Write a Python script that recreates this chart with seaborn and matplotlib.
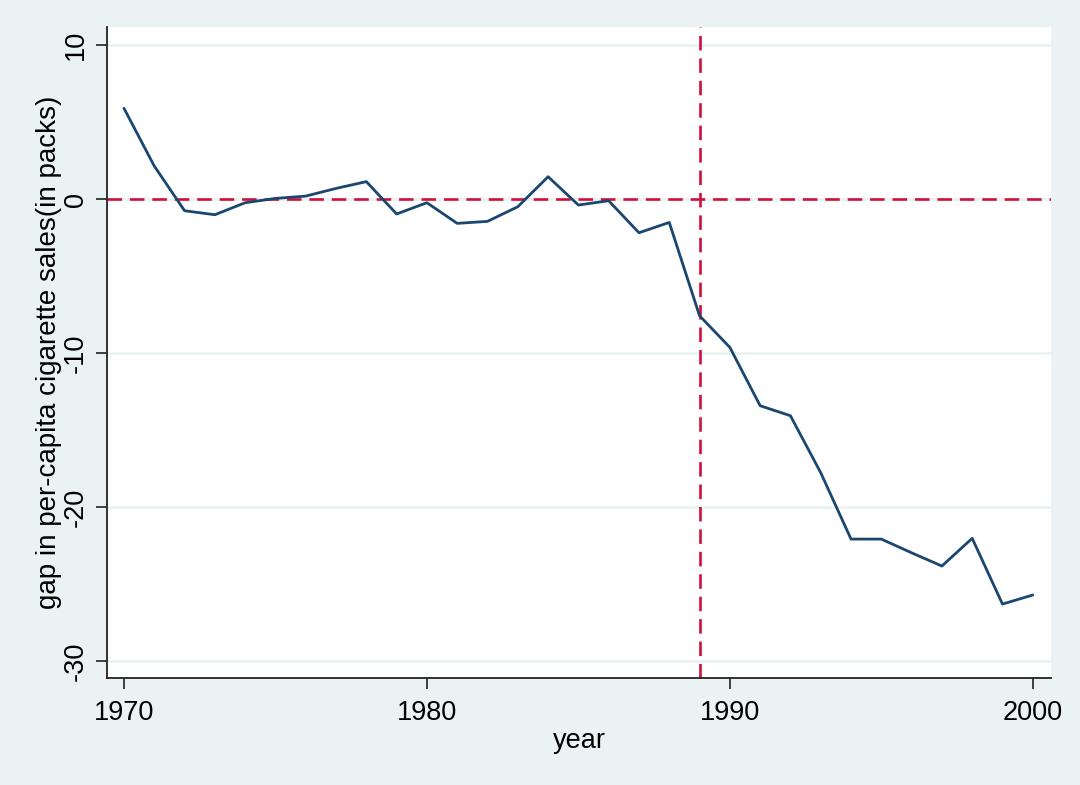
# gap plot: California vs synthetic control

import pandas as pd
import numpy as np
import matplotlib
matplotlib.use('Agg')
import matplotlib.pyplot as plt
import seaborn as sns

# Data
years = list(range(1970, 2001))
gap = [5.89, 2.14, -0.76, -1.02, -0.24, 0.04, 0.19, 0.69, 1.13, -0.97,
       -0.24, -1.58, -1.45, -0.50, 1.45, -0.39, -0.11, -2.19, -1.52, -7.58,
       -9.63, -13.42, -14.07, -17.77, -22.08, -22.08, -22.97, -23.83, -22.03, -26.30,
       -25.71]
yticks = [10, 0, -10, -20, -30]
xticks = [1970, 1980, 1990, 2000]
treat_year = 1989

df = pd.DataFrame({'year': years, 'gap': gap})

bg = '#eaf2f3'
sns.set_style('white')
plt.rcParams['font.family'] = ['Liberation Sans', 'DejaVu Sans']
plt.rcParams['text.color'] = 'black'
plt.rcParams['axes.labelcolor'] = 'black'
plt.rcParams['xtick.color'] = 'black'
plt.rcParams['ytick.color'] = 'black'

fig = plt.figure(figsize=(10.8, 7.85), dpi=100, facecolor=bg)
ax = fig.add_axes([0.0991, 0.1363, 0.874, 0.8293])
ax.set_facecolor('white')

# grid
for v in yticks:
    ax.axhline(v, color=bg, lw=2, zorder=0)

sns.lineplot(data=df, x='year', y='gap', color='#1a476f', lw=2.0, ax=ax, zorder=3)

ax.axhline(0, color='#d0103a', lw=1.9, ls=(0, (5.5, 3)), zorder=2)
ax.axvline(treat_year, color='#d0103a', lw=1.9, ls=(0, (5.5, 3)), zorder=2)

ax.set_xlim(1969.44, 2000.6)
ax.set_ylim(-31.1, 11.17)
ax.set_xticks(xticks)
ax.set_yticks(yticks)
ax.set_xticklabels([str(t) for t in xticks], fontsize=19.5)
ax.set_yticklabels([str(t) for t in yticks], fontsize=19.5, rotation=90, va='center')
ax.tick_params(axis='both', direction='out', length=8, width=1.2, color='#222222', pad=8, left=True, bottom=True)
ax.tick_params(axis='y', pad=5)

for s in ['top', 'right']:
    ax.spines[s].set_visible(False)
for s in ['left', 'bottom']:
    ax.spines[s].set_color('#222222')
    ax.spines[s].set_linewidth(1.3)

ax.set_xlabel('year', fontsize=19.5, labelpad=1)
ax.set_ylabel('gap in per-capita cigarette sales(in packs)', fontsize=20, labelpad=0.5)

fig.savefig('out.png', dpi=100, facecolor=bg)
